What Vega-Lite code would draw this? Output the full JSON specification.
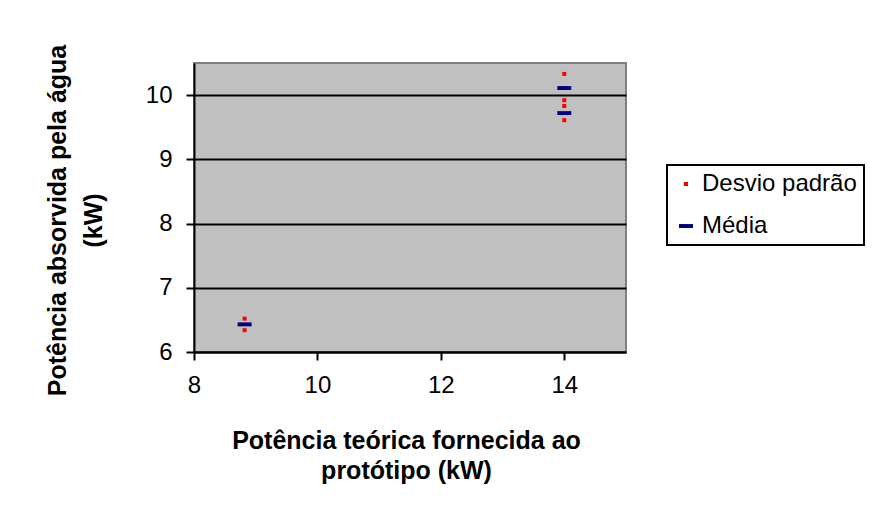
{
  "$schema": "https://vega.github.io/schema/vega-lite/v6.json",
  "width": 432,
  "height": 289,
  "autosize": {"type": "none"},
  "padding": {"left": 194, "top": 63, "right": 246, "bottom": 167},
  "background": "#FFFFFF",
  "config": {
    "font": "Liberation Sans",
    "view": {"fill": "#C0C0C0", "stroke": "#808080", "strokeWidth": 2}
  },
  "data": {
    "values": [
      {"x": 8.82, "y": 6.52, "serie": "Desvio padrão"},
      {"x": 8.82, "y": 6.34, "serie": "Desvio padrão"},
      {"x": 14.0, "y": 10.33, "serie": "Desvio padrão"},
      {"x": 14.0, "y": 9.92, "serie": "Desvio padrão"},
      {"x": 14.0, "y": 9.83, "serie": "Desvio padrão"},
      {"x": 14.0, "y": 9.61, "serie": "Desvio padrão"},
      {"x": 8.82, "y": 6.43, "serie": "Média"},
      {"x": 14.0, "y": 10.11, "serie": "Média"},
      {"x": 14.0, "y": 9.72, "serie": "Média"}
    ]
  },
  "mark": {"type": "point", "filled": true, "opacity": 1, "strokeWidth": 0},
  "encoding": {
    "x": {
      "field": "x",
      "type": "quantitative",
      "scale": {"domain": [8, 15], "nice": false, "zero": false},
      "axis": {
        "values": [8, 10, 12, 14],
        "grid": false,
        "title": ["Potência teórica fornecida ao", "protótipo (kW)"],
        "titleFont": "Liberation Sans",
        "titleFontSize": 25,
        "titleFontWeight": "bold",
        "titleColor": "#000000",
        "titleLineHeight": 30,
        "titleBaseline": "alphabetic",
        "titleX": 212,
        "titleY": 96,
        "labelFont": "Liberation Sans",
        "labelFontSize": 24,
        "labelColor": "#000000",
        "labelPadding": 13,
        "tickSize": 8,
        "tickColor": "#000000",
        "tickWidth": 2,
        "domainColor": "#000000",
        "domainWidth": 2,
        "labelFlush": false,
        "labelOverlap": false
      }
    },
    "y": {
      "field": "y",
      "type": "quantitative",
      "scale": {"domain": [6, 10.5], "nice": false, "zero": false},
      "axis": {
        "values": [6, 7, 8, 9, 10],
        "grid": true,
        "gridColor": "#000000",
        "gridWidth": 2,
        "title": ["Potência absorvida pela água", "(kW)"],
        "titleFont": "Liberation Sans",
        "titleFontSize": 25,
        "titleFontWeight": "bold",
        "titleColor": "#000000",
        "titleLineHeight": 36,
        "titleAngle": -90,
        "titleAlign": "center",
        "titleBaseline": "alphabetic",
        "titleX": -129,
        "titleY": 157,
        "labelFont": "Liberation Sans",
        "labelFontSize": 24,
        "labelColor": "#000000",
        "labelPadding": 14,
        "tickSize": 8,
        "tickColor": "#000000",
        "tickWidth": 2,
        "domainColor": "#000000",
        "domainWidth": 2,
        "labelFlush": false,
        "labelOverlap": false
      }
    },
    "color": {
      "field": "serie",
      "type": "nominal",
      "scale": {"domain": ["Desvio padrão", "Média"], "range": ["#FF0000", "#000080"]},
      "legend": {
        "title": null,
        "orient": "none",
        "legendX": 473,
        "legendY": 102,
        "fillColor": "#FFFFFF",
        "strokeColor": "#000000",
        "padding": 7,
        "rowPadding": 18,
        "labelFont": "Liberation Sans",
        "labelFontSize": 24,
        "labelColor": "#000000",
        "labelOffset": 4,
        "symbolOpacity": 1,
        "encode": {"legend": {"update": {"strokeWidth": {"value": 2}}}}
      }
    },
    "shape": {
      "field": "serie",
      "type": "nominal",
      "scale": {"domain": ["Desvio padrão", "Média"], "range": ["square", "M-1,-0.28H1V0.28H-1Z"]}
    },
    "size": {
      "field": "serie",
      "type": "nominal",
      "scale": {"domain": ["Desvio padrão", "Média"], "range": [16, 196]}
    }
  }
}
